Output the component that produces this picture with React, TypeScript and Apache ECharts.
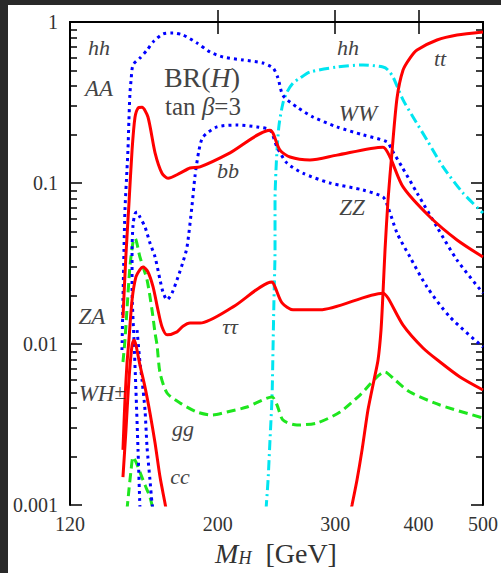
import React, { useEffect, useRef } from 'react';
import * as echarts from 'echarts';

// ---------- axis ticks ----------
const xTickLabels = [120, 200, 300, 400, 500];
const xMajorTicks = [200, 300, 400];
const yDecades = [0.001, 0.01, 0.1];
const yMinorMultipliers = [2, 3, 4, 5, 6, 7, 8, 9];

// ---------- data (M_H in GeV, BR) ----------
const bbMass = [144.1, 145.6, 147.1, 148.7, 150.2, 151.8, 153.9, 157.1, 161.0, 164.9, 168.4, 175.5, 181.7, 188.1, 208.6, 239.5, 242.0, 247.9, 256.7, 275.0, 301.9, 353.9, 362.6, 379.3, 416.3, 457.1, 500];
const bbBR = [0.0145, 0.0360, 0.0740, 0.160, 0.255, 0.292, 0.295, 0.257, 0.154, 0.115, 0.107, 0.115, 0.124, 0.126, 0.154, 0.213, 0.204, 0.160, 0.145, 0.139, 0.149, 0.167, 0.145, 0.0945, 0.0615, 0.0443, 0.0347];

const tautauMass = [144.1, 145.1, 146.1, 147.1, 148.7, 150.7, 152.8, 154.4, 157.1, 159.9, 162.6, 164.9, 167.8, 173.7, 177.3, 181.7, 188.1, 210.8, 241.2, 243.7, 249.7, 259.3, 284.7, 353.9, 360.1, 379.3, 406.4, 431.0, 461.8, 500];
const tautauBR = [0.0022, 0.0045, 0.0075, 0.0106, 0.0188, 0.0261, 0.0290, 0.0301, 0.0280, 0.0226, 0.0163, 0.0128, 0.0114, 0.0119, 0.0129, 0.0135, 0.0135, 0.0170, 0.0243, 0.0226, 0.0180, 0.0163, 0.0163, 0.0207, 0.0193, 0.0131, 0.00945, 0.00773, 0.00624, 0.00518];

const ccMass = [144.1, 145.6, 147.1, 148.7, 149.7, 150.7, 152.8, 155.5, 158.2, 161.0, 163.8, 166.6, 167.8];
const ccBR = [0.00149, 0.00292, 0.00598, 0.00986, 0.0106, 0.00986, 0.00741, 0.0054, 0.00373, 0.00243, 0.00149, 0.00103, 0.00087];

const ttMass = [315.8, 318.0, 323.5, 329.2, 336.0, 343.1, 347.9, 351.5, 353.9, 356.4, 360.1, 365.1, 371.5, 379.3, 388.5, 398.1, 426.5, 457.1, 500];
const ttBR = [0.00087, 0.0010, 0.00143, 0.0022, 0.00389, 0.00598, 0.00796, 0.0122, 0.0207, 0.0384, 0.0784, 0.156, 0.337, 0.503, 0.597, 0.670, 0.773, 0.830, 0.867];

const wwMass = [143.6, 144.1, 144.6, 145.1, 146.1, 146.6, 147.1, 147.6, 148.2, 149.2, 152.8, 156.6, 160.4, 165.5, 171.3, 177.3, 186.1, 194.7, 203.6, 218.2, 233.8, 242.0, 246.2, 250.5, 262.9, 277.9, 301.9, 330.3, 358.9, 365.1, 377.9, 398.1, 426.5, 457.1, 500];
const wwBR = [0.00918, 0.0188, 0.0384, 0.068, 0.120, 0.160, 0.246, 0.357, 0.436, 0.541, 0.597, 0.670, 0.762, 0.842, 0.855, 0.830, 0.741, 0.651, 0.606, 0.581, 0.556, 0.518, 0.449, 0.350, 0.296, 0.257, 0.223, 0.199, 0.180, 0.160, 0.126, 0.0867, 0.0533, 0.0332, 0.0207];

const zzMass = [152.8, 151.8, 150.7, 149.7, 148.7, 148.7, 149.2, 150.2, 151.3, 152.8, 155.5, 158.2, 161.0, 163.8, 165.5, 167.8, 170.7, 174.3, 177.3, 179.8, 182.9, 184.8, 187.4, 190.0, 199.4, 213.7, 229.0, 239.5, 245.4, 254.0, 268.4, 294.7, 330.3, 353.9, 360.1, 371.5, 388.5, 412.0, 446.1, 500];
const zzBR = [0.00096, 0.0022, 0.00518, 0.0106, 0.0217, 0.0384, 0.0548, 0.0642, 0.066, 0.0615, 0.0533, 0.0424, 0.0347, 0.025, 0.021, 0.0188, 0.0207, 0.0261, 0.0323, 0.040, 0.072, 0.110, 0.160, 0.193, 0.223, 0.229, 0.223, 0.213, 0.167, 0.133, 0.115, 0.100, 0.0905, 0.0818, 0.0709, 0.0489, 0.0347, 0.0226, 0.0147, 0.00958];

const aaMass = [151.3, 152.8, 153.9, 155.5, 156.6, 158.2, 159.3, 159.9];
const aaBR = [0.0122, 0.00773, 0.00598, 0.00389, 0.00229, 0.00143, 0.00103, 0.00093];

const ggMass = [144.1, 145.1, 146.1, 147.6, 149.2, 150.2, 152.8, 156.6, 159.3, 161.0, 162.1, 163.8, 167.8, 175.5, 186.1, 196.0, 206.4, 221.2, 241.2, 245.4, 250.5, 262.9, 281.7, 305.1, 326.9, 356.4, 368.9, 388.5, 431.0, 500];
const ggBR = [0.00773, 0.0106, 0.0163, 0.0301, 0.043, 0.0455, 0.0347, 0.025, 0.0163, 0.0117, 0.00986, 0.00661, 0.00496, 0.0043, 0.00378, 0.00362, 0.00378, 0.00406, 0.00469, 0.00418, 0.00337, 0.00314, 0.00323, 0.00378, 0.00482, 0.0067, 0.00598, 0.00503, 0.00418, 0.00347];

const zaMass = [146.1, 147.1, 148.2, 149.2, 150.7, 152.8, 155.5, 158.2, 159.9];
const zaBR = [0.00093, 0.00124, 0.00165, 0.00199, 0.00185, 0.0016, 0.00133, 0.00112, 0.00093];

const hhMass = [236.2, 237.9, 239.5, 241.2, 242.0, 242.8, 243.7, 243.7, 244.5, 245.4, 247.1, 250.5, 254.0, 259.3, 265.7, 275.0, 301.9, 330.3, 353.9, 360.1, 366.4, 379.3, 392.6, 412.0, 435.5, 466.6, 500];
const hhBR = [0.00093, 0.00143, 0.00253, 0.00469, 0.00918, 0.0188, 0.0384, 0.0784, 0.120, 0.160, 0.229, 0.314, 0.367, 0.418, 0.449, 0.489, 0.525, 0.541, 0.525, 0.503, 0.455, 0.328, 0.257, 0.185, 0.126, 0.0867, 0.0651];

const SERIF = '"Liberation Serif", "Times New Roman", serif';

const pairs = (m: number[], v: number[]) => m.map((x, i) => [x, v[i]]);

const RED = { color: '#ff0000', width: 3, type: 'solid' as const };
const BLUE = { color: '#0000ff', width: 3, type: [3, 4], cap: 'butt' as const };
const GREEN = { color: '#1ee61e', width: 3, type: [9, 5] };
const CYAN = { color: '#00e5f0', width: 3, type: [10, 4, 2, 4] };

function lineSeries(name: string, m: number[], v: number[], style: any) {
  return {
    name,
    type: 'line',
    xAxisIndex: 0,
    yAxisIndex: 0,
    data: pairs(m, v),
    showSymbol: false,
    symbol: 'none',
    smooth: 0.25,
    clip: true,
    lineStyle: style,
    emphasis: { disabled: true },
  };
}

function label(text: string, x: number, y: number, size = 22) {
  return {
    type: 'text',
    x,
    y,
    z: 10,
    silent: true,
    style: {
      text,
      font: `italic ${size}px ${SERIF}`,
      fill: '#444',
      align: 'center',
      verticalAlign: 'middle',
    },
  };
}

export default function App() {
  const ref = useRef<HTMLDivElement>(null);

  useEffect(() => {
    if (!ref.current) return;
    const chart = echarts.init(ref.current, undefined, { renderer: 'svg' });
    const lx = Math.log10(120);
    const hx = Math.log10(500);
    const minorY = yDecades.flatMap((d) => yMinorMultipliers.map((k) => Math.log10(k * d)));
    const frame = { show: true, lineStyle: { color: '#000', width: 2 } };

    const option: any = {
      animation: false,
      backgroundColor: '#ffffff',
      grid: { left: 62, top: 17, right: 18, bottom: 68 },
      xAxis: [
        { type: 'log', logBase: 10, min: 120, max: 500, show: false },
        {
          type: 'value', min: lx, max: hx, position: 'bottom',
          axisLine: frame,
          splitLine: { show: false },
          axisTick: { show: true, inside: true, length: 12, customValues: xMajorTicks.map((v) => Math.log10(v)), lineStyle: { color: '#000', width: 1.5 } },
          axisLabel: {
            show: true, customValues: xTickLabels.map((v) => Math.log10(v)),
            formatter: (v: number) => String(Math.round(Math.pow(10, v))),
            fontFamily: SERIF, fontSize: 20, color: '#333', margin: 9,
          },
        },
        {
          type: 'value', min: lx, max: hx, position: 'top',
          axisLine: frame,
          splitLine: { show: false },
          axisTick: { show: true, inside: true, length: 12, customValues: xMajorTicks.map((v) => Math.log10(v)), lineStyle: { color: '#000', width: 1.5 } },
          axisLabel: { show: false },
        },
      ],
      yAxis: [
        {
          type: 'log', logBase: 10, min: 0.001, max: 1, position: 'left',
          axisLine: frame,
          splitLine: { show: false },
          minorTick: { show: false },
          axisTick: { show: true, inside: true, length: 12, lineStyle: { color: '#000', width: 1.5 } },
          axisLabel: { fontFamily: SERIF, fontSize: 20, color: '#333', margin: 12 },
        },
        {
          type: 'value', min: -3, max: 0, position: 'left',
          axisLine: { show: false }, splitLine: { show: false }, axisLabel: { show: false },
          axisTick: { show: true, inside: true, length: 7, customValues: minorY, lineStyle: { color: '#000', width: 1.5 } },
        },
        {
          type: 'log', logBase: 10, min: 0.001, max: 1, position: 'right',
          axisLine: frame, splitLine: { show: false }, axisLabel: { show: false },
          axisTick: { show: true, inside: true, length: 12, lineStyle: { color: '#000', width: 1.5 } },
        },
        {
          type: 'value', min: -3, max: 0, position: 'right',
          axisLine: { show: false }, splitLine: { show: false }, axisLabel: { show: false },
          axisTick: { show: true, inside: true, length: 7, customValues: minorY, lineStyle: { color: '#000', width: 1.5 } },
        },
      ],
      series: [
        lineSeries('hh', hhMass, hhBR, CYAN),
        lineSeries('gg', ggMass, ggBR, GREEN),
        lineSeries('ZA', zaMass, zaBR, GREEN),
        lineSeries('WW', wwMass, wwBR, BLUE),
        lineSeries('ZZ', zzMass, zzBR, BLUE),
        lineSeries('AA', aaMass, aaBR, BLUE),
        lineSeries('cc', ccMass, ccBR, RED),
        lineSeries('ττ', tautauMass, tautauBR, RED),
        lineSeries('bb', bbMass, bbBR, RED),
        lineSeries('tt', ttMass, ttBR, RED),
      ],
      graphic: [
        label('hh', 91, 42),
        label('AA', 91, 83, 23),
        {
          type: 'text', x: 194, y: 72, z: 10, silent: true,
          style: {
            text: '{a|BR(}{b|H}{a|)}', align: 'center', verticalAlign: 'middle',
            rich: {
              a: { font: `28px ${SERIF}`, fill: '#444' },
              b: { font: `italic 28px ${SERIF}`, fill: '#444' },
            },
          },
        },
        {
          type: 'text', x: 195, y: 101, z: 10, silent: true,
          style: {
            text: '{a|tan }{b|β}{a|=3}', align: 'center', verticalAlign: 'middle',
            rich: {
              a: { font: `25px ${SERIF}`, fill: '#444' },
              b: { font: `italic 25px ${SERIF}`, fill: '#444' },
            },
          },
        },
        label('bb', 220, 165),
        label('hh', 340, 42),
        label('tt', 432, 53),
        label('WW', 350, 108, 23),
        label('ZZ', 344, 202, 23),
        label('ττ', 222, 321),
        label('ZA', 84, 311, 23),
        {
          type: 'text', x: 94, y: 388, z: 10, silent: true,
          style: {
            text: '{a|WH}{b|±}', align: 'center', verticalAlign: 'middle',
            rich: {
              a: { font: `italic 23px ${SERIF}`, fill: '#444' },
              b: { font: `20px ${SERIF}`, fill: '#444', verticalAlign: 'top' },
            },
          },
        },
        label('gg', 175, 423),
        label('cc', 172, 471),
        {
          type: 'text', x: 268, y: 548, z: 10, silent: true,
          style: {
            text: '{m|M}{s|H}{g|  [GeV]}', align: 'center', verticalAlign: 'middle',
            rich: {
              m: { font: `italic 28px ${SERIF}`, fill: '#333' },
              s: { font: `italic 18px ${SERIF}`, fill: '#333', verticalAlign: 'bottom' },
              g: { font: `28px ${SERIF}`, fill: '#333' },
            },
          },
        },
      ],
    };
    chart.setOption(option);
    return () => chart.dispose();
  }, []);

  return (
    <div style={{ position: 'fixed', left: 0, top: 0, right: 0, bottom: 0, background: '#292929' }}>
      <div
        ref={ref}
        style={{ position: 'absolute', left: 8, top: 5, width: 493, height: 568, background: '#ffffff' }}
      />
    </div>
  );
}
